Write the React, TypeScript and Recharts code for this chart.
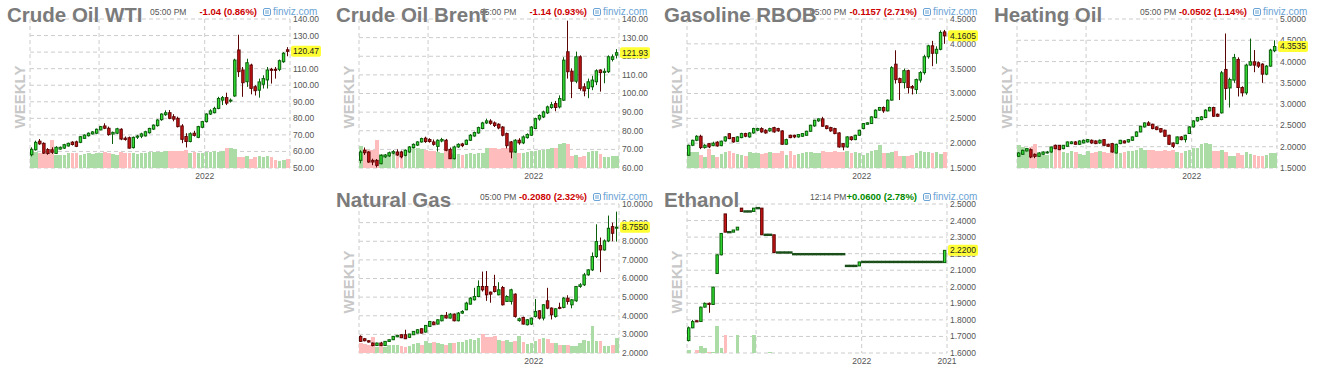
import React from "react";
import { ComposedChart, Bar, XAxis, YAxis, CartesianGrid } from "recharts";

// ---- weekly OHLC + volume (64 weeks each) ----

const wtiOpen = [58.0, 61.0, 66.2, 64.9, 61.2, 61.0, 58.8, 61.4, 62.0, 63.3, 65.6, 65.8, 65.5, 67.9, 69.5, 70.6, 71.0, 73.0, 75.4, 74.0, 70.5, 71.0, 73.4, 68.0, 68.3, 62.3, 68.6, 69.2, 69.4, 71.3, 73.5, 75.6, 79.2, 82.2, 83.4, 81.0, 80.0, 75.4, 69.0, 66.0, 71.0, 68.5, 74.6, 78.0, 82.6, 83.4, 86.0, 91.0, 92.5, 90.5, 93.5, 121.3, 109.2, 102.1, 112.2, 99.1, 97.0, 100.6, 103.2, 109.6, 109.6, 109.6, 114.2, 121.4];
const wtiHigh = [62.5, 66.5, 67.5, 65.5, 62.0, 62.5, 63.2, 63.0, 64.6, 65.3, 66.2, 66.5, 69.3, 70.3, 71.5, 72.3, 73.8, 75.4, 77.0, 75.0, 72.0, 74.3, 74.0, 69.0, 69.0, 69.0, 70.0, 71.3, 72.5, 74.3, 76.3, 79.5, 83.0, 84.8, 85.0, 82.5, 81.0, 76.5, 71.0, 71.5, 72.5, 75.5, 78.5, 83.0, 85.5, 87.0, 93.0, 93.5, 95.5, 92.0, 116.0, 130.5, 111.0, 116.0, 113.0, 100.0, 104.0, 106.0, 111.0, 110.5, 111.0, 115.5, 120.0, 123.0];
const wtiLow = [57.0, 60.5, 64.0, 58.5, 58.0, 58.5, 58.5, 61.0, 61.5, 63.0, 63.6, 62.6, 65.0, 67.5, 69.0, 70.2, 70.5, 72.8, 73.5, 69.5, 64.5, 70.5, 66.8, 66.5, 61.7, 61.8, 67.5, 68.0, 69.0, 70.8, 73.0, 75.0, 78.5, 81.5, 79.5, 78.2, 74.5, 65.0, 62.4, 65.5, 69.0, 68.0, 74.0, 77.5, 82.0, 83.0, 85.5, 88.0, 88.0, 89.5, 93.0, 105.0, 93.0, 99.0, 94.5, 93.8, 92.5, 98.0, 98.0, 101.0, 104.0, 108.5, 113.5, 117.5];
const wtiClose = [61.3, 65.5, 64.6, 59.0, 58.8, 59.5, 62.5, 62.5, 64.1, 64.9, 64.2, 63.1, 68.9, 69.9, 71.0, 71.8, 73.4, 75.0, 74.0, 70.2, 71.5, 73.7, 67.5, 67.2, 62.0, 68.5, 69.3, 70.6, 71.9, 73.9, 75.9, 79.0, 82.6, 83.4, 80.0, 79.5, 75.0, 67.3, 66.0, 70.7, 69.7, 75.0, 78.0, 82.6, 84.5, 86.0, 92.0, 92.5, 89.2, 91.0, 115.2, 108.2, 101.5, 113.6, 98.1, 96.7, 102.0, 104.0, 109.2, 109.4, 109.0, 114.8, 119.3, 120.47];
const wtiVolume = [57, 57, 54, 54, 52, 100, 46, 46, 48, 52, 54, 54, 48, 50, 52, 50, 52, 54, 56, 52, 50, 48, 56, 54, 55, 52, 50, 52, 54, 56, 58, 56, 58, 60, 60, 62, 60, 62, 64, 54, 58, 52, 54, 56, 58, 60, 58, 62, 70, 72, 68, 40, 38, 42, 32, 38, 42, 40, 44, 38, 30, 24, 28, 32];

const brentOpen = [64.1, 69.5, 68.6, 64.1, 64.1, 62.3, 66.0, 66.5, 68.0, 68.6, 68.6, 66.8, 68.6, 71.0, 72.3, 74.0, 76.0, 75.3, 74.0, 71.6, 74.5, 74.9, 70.0, 65.0, 71.3, 72.9, 72.7, 74.9, 77.2, 78.8, 81.2, 84.2, 85.2, 84.2, 83.5, 82.0, 78.5, 74.0, 68.6, 74.9, 73.5, 76.3, 77.6, 81.2, 86.3, 87.4, 89.6, 92.5, 94.6, 92.8, 96.4, 122.4, 112.0, 106.6, 119.7, 103.6, 102.7, 103.6, 106.3, 112.6, 111.3, 111.7, 118.3, 120.6];
const brentHigh = [69.5, 71.0, 69.0, 65.0, 64.8, 67.3, 67.5, 68.8, 69.6, 70.0, 69.3, 70.0, 71.8, 73.2, 74.4, 76.3, 76.8, 76.0, 75.3, 75.4, 76.2, 75.6, 71.0, 72.0, 73.3, 73.5, 75.3, 78.2, 79.5, 82.2, 84.8, 86.5, 86.2, 85.0, 84.0, 82.5, 79.0, 74.5, 75.5, 76.0, 77.5, 78.6, 82.5, 87.0, 88.8, 90.8, 93.5, 95.5, 96.0, 99.0, 119.5, 139.1, 113.5, 122.5, 120.5, 105.5, 108.0, 109.5, 113.0, 113.0, 113.5, 120.5, 121.0, 123.8];
const brentLow = [62.5, 67.0, 62.8, 61.5, 60.3, 62.0, 65.4, 66.0, 67.4, 66.5, 65.2, 66.3, 68.2, 70.5, 71.8, 73.6, 73.5, 73.6, 72.0, 68.8, 73.8, 69.0, 64.8, 64.6, 70.8, 71.2, 72.3, 74.5, 76.8, 78.4, 80.8, 83.6, 83.2, 82.0, 80.8, 77.0, 70.5, 65.2, 68.2, 72.5, 72.8, 75.8, 77.2, 80.8, 85.4, 86.8, 89.0, 91.8, 90.5, 92.0, 96.0, 108.0, 97.5, 105.5, 101.5, 98.5, 97.5, 101.8, 104.5, 101.0, 105.5, 111.0, 117.2, 118.8];
const brentClose = [68.6, 68.2, 63.2, 63.2, 61.4, 66.8, 67.0, 68.2, 68.8, 67.0, 66.0, 69.5, 71.3, 72.7, 74.0, 75.8, 74.2, 74.2, 72.7, 74.9, 75.3, 69.5, 65.0, 71.3, 72.7, 72.0, 74.9, 77.6, 79.0, 81.7, 84.2, 85.3, 84.0, 82.8, 81.5, 77.6, 72.0, 68.6, 74.9, 73.5, 76.7, 78.0, 82.0, 86.5, 88.2, 90.1, 92.8, 94.0, 92.5, 97.3, 117.9, 111.7, 106.6, 119.7, 102.7, 101.4, 106.3, 107.2, 112.2, 111.2, 111.9, 119.7, 119.7, 121.93];
const brentVolume = [78, 68, 66, 64, 100, 50, 48, 52, 56, 50, 54, 62, 66, 70, 72, 68, 64, 62, 60, 58, 54, 88, 52, 50, 50, 48, 50, 52, 50, 52, 54, 70, 72, 70, 68, 70, 72, 74, 56, 54, 52, 58, 60, 62, 64, 66, 68, 70, 70, 84, 90, 86, 44, 46, 40, 42, 58, 60, 62, 50, 40, 38, 42, 44];

const rbobOpen = [1.756, 1.958, 2.058, 2.139, 1.911, 1.99, 1.95, 2.02, 1.95, 2.045, 2.19, 2.112, 2.038, 2.112, 2.193, 2.126, 2.206, 2.26, 2.294, 2.26, 2.247, 2.314, 2.294, 2.247, 1.978, 2.159, 2.159, 2.126, 2.139, 2.159, 2.24, 2.348, 2.449, 2.489, 2.348, 2.314, 2.294, 2.206, 1.991, 1.924, 2.126, 2.072, 2.159, 2.294, 2.381, 2.395, 2.516, 2.664, 2.718, 2.65, 2.866, 3.59, 3.3, 3.22, 3.46, 3.14, 3.08, 3.27, 3.42, 3.74, 3.96, 3.81, 3.89, 4.24];
const rbobHigh = [1.97, 2.07, 2.16, 2.17, 1.98, 2.0, 2.03, 2.04, 2.05, 2.14, 2.2, 2.12, 2.14, 2.21, 2.21, 2.22, 2.31, 2.31, 2.32, 2.28, 2.31, 2.33, 2.31, 2.26, 2.09, 2.17, 2.17, 2.18, 2.2, 2.25, 2.37, 2.47, 2.5, 2.53, 2.36, 2.33, 2.31, 2.22, 2.0, 2.14, 2.14, 2.17, 2.27, 2.4, 2.42, 2.54, 2.68, 2.73, 2.74, 2.88, 3.55, 3.87, 3.32, 3.5, 3.48, 3.17, 3.3, 3.45, 3.78, 3.98, 4.06, 3.95, 4.27, 4.28];
const rbobLow = [1.75, 1.94, 2.04, 1.88, 1.89, 1.9, 1.94, 1.93, 1.94, 2.03, 2.08, 2.01, 2.03, 2.1, 2.12, 2.11, 2.19, 2.24, 2.21, 2.19, 2.23, 2.21, 2.23, 1.97, 1.97, 2.1, 2.1, 2.11, 2.13, 2.15, 2.23, 2.33, 2.43, 2.33, 2.28, 2.23, 2.18, 1.91, 1.857, 1.91, 2.05, 2.06, 2.15, 2.28, 2.37, 2.39, 2.5, 2.65, 2.61, 2.64, 2.86, 3.2, 2.87, 3.1, 3.0, 2.98, 2.99, 3.22, 3.38, 3.7, 3.55, 3.6, 3.87, 4.0];
const rbobClose = [1.958, 2.058, 2.139, 1.911, 1.958, 1.924, 2.0, 1.944, 2.04, 2.126, 2.092, 2.025, 2.126, 2.193, 2.14, 2.206, 2.294, 2.294, 2.227, 2.206, 2.294, 2.227, 2.247, 1.978, 2.072, 2.112, 2.126, 2.173, 2.193, 2.24, 2.361, 2.462, 2.489, 2.341, 2.294, 2.247, 2.193, 1.924, 1.924, 2.126, 2.072, 2.159, 2.26, 2.395, 2.41, 2.529, 2.664, 2.718, 2.65, 2.866, 3.52, 3.28, 3.22, 3.46, 3.12, 3.11, 3.28, 3.42, 3.74, 3.96, 3.81, 3.89, 4.23, 4.1605];
const rbobVolume = [58, 58, 56, 48, 40, 68, 46, 40, 50, 58, 62, 52, 50, 48, 42, 56, 52, 54, 50, 52, 56, 52, 54, 60, 48, 62, 48, 50, 54, 56, 56, 54, 52, 62, 56, 58, 60, 58, 56, 60, 54, 56, 52, 46, 54, 60, 66, 82, 54, 52, 56, 60, 44, 42, 44, 48, 54, 60, 58, 56, 52, 58, 50, 56];

const hoOpen = [1.774, 1.822, 1.9, 1.931, 1.822, 1.774, 1.822, 1.853, 1.876, 2.033, 2.033, 1.955, 2.01, 2.073, 2.112, 2.057, 2.088, 2.112, 2.151, 2.135, 2.088, 2.167, 2.057, 2.073, 1.853, 2.073, 2.135, 2.112, 2.151, 2.245, 2.347, 2.465, 2.559, 2.528, 2.465, 2.426, 2.387, 2.269, 2.088, 2.073, 2.23, 2.167, 2.31, 2.465, 2.606, 2.638, 2.685, 2.842, 2.92, 2.763, 2.795, 3.815, 3.38, 3.564, 4.05, 3.391, 3.266, 3.917, 3.995, 3.972, 3.94, 3.705, 3.893, 4.254];
const hoHigh = [1.87, 1.93, 1.97, 1.96, 1.84, 1.87, 1.89, 1.9, 2.0, 2.05, 2.04, 2.04, 2.12, 2.13, 2.13, 2.15, 2.17, 2.18, 2.17, 2.15, 2.17, 2.18, 2.07, 2.09, 2.07, 2.16, 2.15, 2.18, 2.24, 2.36, 2.49, 2.57, 2.6, 2.54, 2.48, 2.44, 2.4, 2.28, 2.1, 2.24, 2.25, 2.28, 2.48, 2.62, 2.7, 2.72, 2.88, 2.94, 2.94, 2.78, 3.78, 4.66, 3.62, 4.18, 4.1, 3.42, 3.95, 4.54, 4.27, 4.0, 3.96, 3.92, 4.3, 4.5];
const hoLow = [1.76, 1.81, 1.89, 1.73, 1.73, 1.76, 1.81, 1.84, 1.86, 1.94, 1.92, 1.94, 2.0, 2.06, 2.05, 2.04, 2.08, 2.1, 2.07, 2.06, 2.07, 2.02, 2.0, 1.86, 1.84, 2.06, 2.08, 2.1, 2.14, 2.23, 2.34, 2.45, 2.49, 2.41, 2.39, 2.33, 2.23, 2.04, 1.97, 2.06, 2.15, 2.1, 2.3, 2.45, 2.59, 2.62, 2.67, 2.83, 2.7, 2.7, 2.78, 3.1, 2.92, 3.5, 3.18, 3.18, 3.22, 3.9, 3.75, 3.85, 3.5, 3.68, 3.88, 4.22];
const hoClose = [1.853, 1.916, 1.955, 1.759, 1.774, 1.853, 1.876, 1.876, 1.994, 1.955, 1.931, 2.033, 2.112, 2.112, 2.057, 2.135, 2.151, 2.167, 2.088, 2.073, 2.151, 2.033, 2.01, 1.876, 2.057, 2.151, 2.088, 2.167, 2.23, 2.347, 2.481, 2.559, 2.504, 2.426, 2.402, 2.347, 2.245, 2.057, 2.01, 2.23, 2.167, 2.269, 2.465, 2.606, 2.685, 2.7, 2.858, 2.92, 2.716, 2.716, 3.736, 3.368, 3.58, 4.097, 3.391, 3.266, 3.917, 3.995, 3.917, 3.893, 3.705, 3.893, 4.27, 4.3535];
const hoVolume = [82, 76, 70, 74, 86, 50, 48, 46, 66, 68, 66, 56, 52, 60, 56, 50, 48, 62, 54, 58, 60, 56, 52, 64, 56, 52, 58, 60, 62, 66, 70, 66, 64, 64, 62, 60, 64, 62, 66, 56, 54, 62, 66, 72, 70, 86, 90, 84, 60, 62, 66, 58, 44, 42, 52, 48, 56, 50, 46, 44, 42, 48, 52, 54];

const ngOpen = [2.892, 2.767, 2.659, 2.535, 2.4, 2.535, 2.4, 2.62, 2.713, 2.87, 2.98, 2.98, 2.84, 2.98, 3.07, 3.303, 3.124, 3.427, 3.66, 3.553, 3.731, 4.02, 3.874, 4.088, 3.731, 4.142, 4.32, 4.624, 4.857, 5.035, 5.571, 5.571, 5.267, 5.571, 5.124, 5.517, 4.767, 4.767, 5.16, 3.74, 3.91, 3.517, 3.553, 3.963, 4.267, 3.874, 4.803, 4.41, 3.963, 4.45, 4.446, 4.946, 4.587, 4.803, 5.571, 5.66, 6.196, 6.464, 7.178, 7.768, 7.535, 8.018, 8.786, 8.7];
const ngHigh = [2.95, 2.8, 2.68, 2.56, 2.56, 2.6, 2.64, 2.73, 2.91, 2.96, 3.0, 3.25, 3.03, 3.17, 3.27, 3.32, 3.5, 3.72, 3.7, 3.8, 4.05, 4.2, 4.15, 4.12, 4.2, 4.3, 4.75, 5.0, 5.5, 5.9, 6.37, 6.4, 5.3, 6.2, 5.8, 5.6, 5.1, 5.45, 5.2, 3.9, 3.95, 3.82, 3.9, 4.9, 4.3, 4.62, 5.5, 4.45, 4.4, 4.7, 5.0, 5.1, 4.9, 5.6, 5.75, 6.3, 6.5, 7.4, 8.91, 8.2, 8.1, 9.38, 9.0, 9.59];
const ngLow = [2.6, 2.63, 2.56, 2.36, 2.38, 2.37, 2.38, 2.6, 2.7, 2.85, 2.8, 2.75, 2.82, 2.97, 3.05, 3.05, 3.1, 3.41, 3.5, 3.53, 3.7, 3.85, 3.85, 3.7, 3.7, 4.1, 4.3, 4.6, 4.82, 5.0, 5.3, 4.8, 4.7, 5.25, 5.1, 4.55, 4.75, 4.6, 3.9, 3.68, 3.53, 3.48, 3.5, 3.9, 3.8, 3.75, 4.35, 3.8, 3.9, 4.35, 4.4, 4.6, 4.4, 4.75, 5.5, 5.6, 6.15, 6.4, 7.1, 6.34, 7.5, 7.95, 8.0, 7.98];
const ngClose = [2.624, 2.659, 2.588, 2.4, 2.535, 2.4, 2.624, 2.713, 2.892, 2.946, 2.82, 2.767, 3.017, 3.16, 3.249, 3.07, 3.481, 3.695, 3.517, 3.785, 4.017, 3.88, 4.088, 3.731, 4.142, 4.231, 4.678, 4.946, 5.035, 5.571, 5.393, 5.124, 5.16, 5.303, 5.393, 4.589, 5.035, 5.393, 3.963, 3.838, 3.553, 3.785, 3.874, 4.231, 3.874, 4.589, 4.41, 4.053, 4.374, 4.41, 4.946, 4.767, 4.857, 5.571, 5.66, 6.196, 6.464, 7.178, 7.982, 7.535, 8.018, 8.696, 8.429, 8.755];
const ngVolume = [34, 32, 30, 58, 22, 24, 20, 28, 30, 30, 24, 22, 26, 32, 36, 30, 44, 36, 38, 34, 32, 30, 36, 34, 40, 38, 46, 50, 48, 54, 68, 58, 56, 60, 48, 44, 46, 40, 44, 60, 38, 32, 36, 44, 50, 52, 50, 36, 34, 30, 28, 30, 26, 26, 36, 48, 42, 95, 44, 42, 24, 26, 30, 54];

const ethOpen = [1.675, 1.752, 1.795, 1.79, 1.877, 1.9, 1.893, 2.08, 2.193, 2.44, 2.33, 2.33, 2.343, 2.475, 2.455, 2.455, 2.455, 2.475, 2.475, 2.314, 2.314, 2.314, 2.207, 2.207, 2.207, 2.207, 2.197, 2.197, 2.197, 2.197, 2.197, 2.197, 2.197, 2.197, 2.197, 2.197, 2.197, 2.197, 2.197, 2.126, 2.126, 2.126, 2.126, 2.15, 2.15, 2.15, 2.15, 2.15, 2.15, 2.15, 2.15, 2.15, 2.15, 2.15, 2.15, 2.15, 2.15, 2.15, 2.15, 2.15, 2.15, 2.15, 2.15, 2.146];
const ethHigh = [1.76, 1.8, 1.795, 1.88, 1.905, 1.905, 2.0, 2.195, 2.325, 2.44, 2.33, 2.343, 2.36, 2.475, 2.455, 2.455, 2.475, 2.475, 2.475, 2.314, 2.314, 2.314, 2.207, 2.207, 2.207, 2.207, 2.197, 2.197, 2.197, 2.197, 2.197, 2.197, 2.197, 2.197, 2.197, 2.197, 2.197, 2.197, 2.197, 2.126, 2.126, 2.126, 2.15, 2.15, 2.15, 2.15, 2.15, 2.15, 2.15, 2.15, 2.15, 2.15, 2.15, 2.15, 2.15, 2.15, 2.15, 2.15, 2.15, 2.15, 2.15, 2.15, 2.15, 2.22];
const ethLow = [1.67, 1.75, 1.788, 1.79, 1.875, 1.843, 1.89, 2.08, 2.19, 2.33, 2.33, 2.33, 2.343, 2.455, 2.455, 2.455, 2.455, 2.475, 2.314, 2.314, 2.314, 2.207, 2.207, 2.207, 2.207, 2.207, 2.197, 2.197, 2.197, 2.197, 2.197, 2.197, 2.197, 2.197, 2.197, 2.197, 2.197, 2.197, 2.197, 2.126, 2.126, 2.126, 2.126, 2.15, 2.15, 2.15, 2.15, 2.15, 2.15, 2.15, 2.15, 2.15, 2.15, 2.15, 2.15, 2.15, 2.15, 2.15, 2.15, 2.15, 2.15, 2.15, 2.15, 2.146];
const ethClose = [1.752, 1.79, 1.788, 1.877, 1.9, 1.893, 1.998, 2.193, 2.322, 2.33, 2.33, 2.343, 2.36, 2.455, 2.455, 2.455, 2.475, 2.475, 2.314, 2.314, 2.314, 2.207, 2.207, 2.207, 2.207, 2.207, 2.197, 2.197, 2.197, 2.197, 2.197, 2.197, 2.197, 2.197, 2.197, 2.197, 2.197, 2.197, 2.197, 2.126, 2.126, 2.126, 2.15, 2.15, 2.15, 2.15, 2.15, 2.15, 2.15, 2.15, 2.15, 2.15, 2.15, 2.15, 2.15, 2.15, 2.15, 2.15, 2.15, 2.15, 2.15, 2.15, 2.15, 2.22];
const ethVolume = [10, 0, 10, 25, 18, 5, 5, 96, 18, 64, 0, 0, 64, 0, 0, 0, 64, 0, 0, 0, 4, 0, 0, 0, 0, 0, 0, 0, 0, 0, 0, 0, 0, 0, 0, 0, 0, 0, 0, 0, 0, 0, 0, 0, 0, 0, 0, 0, 0, 0, 0, 0, 0, 0, 0, 0, 0, 0, 0, 0, 0, 0, 0, 0];

// price axis ticks
const wtiTicks = [50, 60, 70, 80, 90, 100, 110, 120, 130, 140];
const brentTicks = [60, 70, 80, 90, 100, 110, 120, 130, 140];
const rbobTicks = [1.5, 2.0, 2.5, 3.0, 3.5, 4.0, 4.5];
const hoTicks = [1.5, 2.0, 2.5, 3.0, 3.5, 4.0, 4.5, 5.0];
const ngTicks = [2, 3, 4, 5, 6, 7, 8, 9, 10];
const ethTicks = [1.6, 1.7, 1.8, 1.9, 2.0, 2.1, 2.2, 2.3, 2.4, 2.5];

// time axis: week boundaries of Jul 2021 and Jan 2022, plus plot edges
const weekTicks = [-0.5, 16.5, 42.5, 63.5];
const weekLabels = ["", "", "2022", ""];
const ethWeekLabels = ["", "", "2022", "2021"];

const FONT = "Arial, 'Liberation Sans', sans-serif";
const RED = "#cc0000";
const GREEN = "#008a00";

const panels = [
  { id: "wti", title: "Crude Oil WTI", time: "05:00 PM", change: "-1.04 (0.86%)", changeColor: RED, open: wtiOpen, high: wtiHigh, low: wtiLow, close: wtiClose, volume: wtiVolume, ticks: wtiTicks, digits: 2, labels: weekLabels, x: 0, y: 0, plotLeft: 30, titleX: 7 },
  { id: "brent", title: "Crude Oil Brent", time: "05:00 PM", change: "-1.14 (0.93%)", changeColor: RED, open: brentOpen, high: brentHigh, low: brentLow, close: brentClose, volume: brentVolume, ticks: brentTicks, digits: 2, labels: weekLabels, x: 330, y: 0, plotLeft: 29, titleX: 6 },
  { id: "rbob", title: "Gasoline RBOB", time: "05:00 PM", change: "-0.1157 (2.71%)", changeColor: RED, open: rbobOpen, high: rbobHigh, low: rbobLow, close: rbobClose, volume: rbobVolume, ticks: rbobTicks, digits: 4, labels: weekLabels, x: 660, y: 0, plotLeft: 27, titleX: 4 },
  { id: "ho", title: "Heating Oil", time: "05:00 PM", change: "-0.0502 (1.14%)", changeColor: RED, open: hoOpen, high: hoHigh, low: hoLow, close: hoClose, volume: hoVolume, ticks: hoTicks, digits: 4, labels: weekLabels, x: 990, y: 0, plotLeft: 27, titleX: 4 },
  { id: "ng", title: "Natural Gas", time: "05:00 PM", change: "-0.2080 (2.32%)", changeColor: RED, open: ngOpen, high: ngHigh, low: ngLow, close: ngClose, volume: ngVolume, ticks: ngTicks, digits: 4, labels: weekLabels, x: 330, y: 185, plotLeft: 29, titleX: 6 },
  { id: "eth", title: "Ethanol", time: "12:14 PM", change: "+0.0600 (2.78%)", changeColor: GREEN, open: ethOpen, high: ethHigh, low: ethLow, close: ethClose, volume: ethVolume, ticks: ethTicks, digits: 4, labels: ethWeekLabels, x: 660, y: 185, plotLeft: 27, titleX: 4 },
];

const renderCandle = (props: any) => {
  const { x, y, width, height, payload } = props;
  if (!payload || x == null || y == null) return <g />;
  const { o, h, l, c } = payload;
  if (h === l) {
    // no range that week: finviz draws a dark dash
    return <rect x={x - 0.6} y={y - 1.2} width={width + 1.2} height={2.4} fill="#1a4f1a" />;
  }
  const up = c >= o;
  const edge = up ? "#0b5e0b" : "#5c0505";
  const toY = (v: number) => y + ((h - v) / (h - l)) * height;
  const top = toY(Math.max(o, c));
  const bottom = toY(Math.min(o, c));
  const cx = Math.round(x + width / 2 - 0.5) + 0.5;
  return (
    <g>
      <line x1={cx} x2={cx} y1={y} y2={y + height} stroke={edge} strokeWidth={1} />
      <rect
        x={x + 0.5}
        y={top}
        width={width - 1}
        height={Math.max(bottom - top, 1)}
        fill={up ? "#33e033" : "#cc1414"}
        stroke={edge}
        strokeWidth={1}
      />
    </g>
  );
};

const renderVolume = (props: any) => {
  const { x, y, width, height, payload } = props;
  if (!payload || !height) return <g />;
  const fill = payload.c >= payload.o ? "#acdca6" : "#ffbcbc";
  return <rect x={x} y={y} width={width} height={height} fill={fill} shapeRendering="crispEdges" />;
};

// price axis tick; the last close is drawn as the yellow tag
const PriceTick = (props: any) => {
  const { x, y, payload, last, digits } = props;
  const v = payload.value as number;
  if (v === last) {
    return (
      <g>
        <rect x={x - 2} y={y - 5.5} width={30} height={11} rx={2} fill="#ffff33" />
        <text x={x} y={y} dy="0.35em" fontSize={8.5} fontFamily={FONT} fill="#222">
          {v.toFixed(digits)}
        </text>
      </g>
    );
  }
  return (
    <text x={x} y={y} dy="0.35em" fontSize={8.5} fontFamily={FONT} fill="#555">
      {v.toFixed(digits)}
    </text>
  );
};

const FinvizIcon = () => (
  <svg width={8} height={8} viewBox="0 0 8 8" style={{ marginRight: 2 }}>
    <rect x={0.5} y={0.5} width={7} height={7} rx={1.5} fill="none" stroke="#6aa3d5" strokeWidth={1} />
    <line x1={2} x2={6} y1={3} y2={3} stroke="#6aa3d5" strokeWidth={1} />
    <line x1={2} x2={6} y1={5} y2={5} stroke="#6aa3d5" strokeWidth={1} />
  </svg>
);

const Panel = ({ p }: { p: (typeof panels)[number] }) => {
  const rows = p.open.map((o, i) => ({
    i,
    o,
    h: p.high[i],
    l: p.low[i],
    c: p.close[i],
    v: p.volume[i],
    range: [p.low[i], p.high[i]],
  }));
  const last = p.close[p.close.length - 1];
  const domain = [p.ticks[0], p.ticks[p.ticks.length - 1]];

  return (
    <div style={{ position: "absolute", left: p.x, top: p.y, width: 330, height: 185 }}>
      <ComposedChart
        width={330}
        height={185}
        data={rows}
        margin={{ top: 19, right: 30 - p.plotLeft, bottom: 0, left: p.plotLeft }}
        barGap={0}
        barCategoryGap={0}
      >
        <XAxis
          xAxisId="x"
          dataKey="i"
          type="number"
          domain={[-0.5, 63.5]}
          allowDataOverflow
          ticks={weekTicks}
          interval={0}
          tickFormatter={(v: number) => p.labels[weekTicks.indexOf(v)] ?? ""}
          axisLine={false}
          tickLine={false}
          tickSize={0}
          tickMargin={5}
          height={17}
          tick={{ fontSize: 8.5, fill: "#555", fontFamily: FONT }}
        />
        <XAxis xAxisId="xv" dataKey="i" type="number" domain={[-0.5, 63.5]} allowDataOverflow hide />
        <YAxis
          yAxisId="p"
          orientation="right"
          domain={domain}
          allowDataOverflow
          ticks={[...p.ticks, last]}
          interval={0}
          axisLine={false}
          tickLine={false}
          tickSize={0}
          tickMargin={3}
          width={40}
          tick={(tp: any) => <PriceTick {...tp} last={last} digits={p.digits} />}
        />
        <YAxis yAxisId="v" domain={[0, 532]} allowDataOverflow hide />
        <CartesianGrid
          xAxisId="x"
          yAxisId="p"
          horizontalValues={p.ticks}
          stroke="#cccccc"
          strokeDasharray="4 3"
        />
        <Bar
          xAxisId="xv"
          yAxisId="v"
          dataKey="v"
          barSize={4.2}
          shape={renderVolume}
          isAnimationActive={false}
        />
        <Bar
          xAxisId="x"
          yAxisId="p"
          dataKey="range"
          barSize={3.4}
          shape={renderCandle}
          isAnimationActive={false}
        />
      </ComposedChart>

      {/* header row */}
      <div style={{ position: "absolute", left: 150, top: 6, fontSize: 8.5, lineHeight: "12px", color: "#555", whiteSpace: "nowrap" }}>
        {p.time}
      </div>
      <div style={{ position: "absolute", right: 73, top: 6, fontSize: 9.5, lineHeight: "12px", fontWeight: "bold", color: p.changeColor, whiteSpace: "nowrap" }}>
        {p.change}
      </div>
      <div style={{ position: "absolute", left: 263, top: 6, fontSize: 10, lineHeight: "12px", color: "#6aa3d5", display: "flex", alignItems: "center", whiteSpace: "nowrap" }}>
        <FinvizIcon />
        finviz.com
      </div>

      <div
        style={{
          position: "absolute",
          left: p.plotLeft - 11,
          top: 97,
          transform: "translate(-50%, -50%) rotate(-90deg)",
          fontSize: 15,
          fontWeight: "bold",
          color: "#c8c8c8",
          whiteSpace: "nowrap",
        }}
      >
        WEEKLY
      </div>

      <div
        style={{
          position: "absolute",
          left: p.titleX,
          top: 5,
          fontSize: 20.5,
          lineHeight: "20px",
          fontWeight: "bold",
          color: "#7b7b7b",
          whiteSpace: "nowrap",
        }}
      >
        {p.title}
      </div>
    </div>
  );
};

export default function App() {
  return (
    <div style={{ position: "relative", width: 1320, height: 375, background: "#fff", fontFamily: FONT, overflow: "hidden" }}>
      <style>{"body{margin:0}"}</style>
      {panels.map((p) => (
        <Panel key={p.id} p={p} />
      ))}
    </div>
  );
}
